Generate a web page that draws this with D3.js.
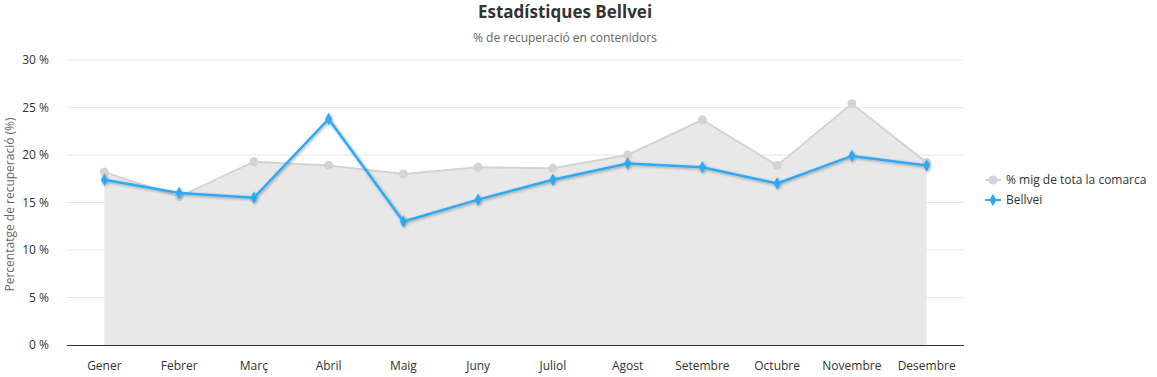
<!DOCTYPE html>
<html>
<head>
<meta charset="utf-8">
<script src="https://cdn.jsdelivr.net/npm/d3@7"></script>
<style>
  body { margin: 0; background: #fff; font-family: "Open Sans", "Noto Sans", sans-serif; }
  svg text { fill: #333; }
</style>
</head>
<body>
<div id="chart"></div>
<script>
var months = ["Gener", "Febrer", "Març", "Abril", "Maig", "Juny", "Juliol", "Agost", "Setembre", "Octubre", "Novembre", "Desembre"];
var comarca = [18.2, 15.6, 19.3, 18.9, 18.0, 18.7, 18.6, 20.0, 23.7, 18.9, 25.4, 19.2];
var bellvei = [17.4, 16.0, 15.5, 23.8, 13.0, 15.3, 17.4, 19.1, 18.7, 17.0, 19.9, 18.9];
var yTicks = [0, 5, 10, 15, 20, 25, 30];
var seriesNames = ["% mig de tota la comarca", "Bellvei"];

function renderChart() {
    var width = 1157, height = 377;

    var svg = d3.select("#chart")
        .append("svg")
        .attr("width", width)
        .attr("height", height);

    var defs = svg.append("defs");
    var f = defs.append("filter").attr("id", "shadow")
        .attr("x", "-10%").attr("y", "-10%").attr("width", "120%").attr("height", "130%");
    f.append("feDropShadow")
        .attr("dx", 1).attr("dy", 1).attr("stdDeviation", 1.5)
        .attr("flood-color", "#000").attr("flood-opacity", 0.35);

    svg.append("text")
        .attr("x", 565)
        .attr("y", 18)
        .attr("text-anchor", "middle")
        .style("font-size", "17px")
        .style("font-weight", "bold")
        .text("Estadístiques Bellvei");

    svg.append("text")
        .attr("x", 565)
        .attr("y", 42)
        .attr("text-anchor", "middle")
        .style("font-size", "12px")
        .style("fill", "#666")
        .text("% de recuperació en contenidors");

    var left = 67, right = 964, top = 60, bottom = 345;

    var xScale = d3.scaleBand().domain(months).range([left, right]);
    var yScale = d3.scaleLinear().domain([0, 30]).range([bottom, top]);
    var cx = function (d, i) { return xScale(months[i]) + xScale.bandwidth() / 2; };

    // grid
    svg.append("g")
        .selectAll("line")
        .data(yTicks.slice(1))
        .enter().append("line")
        .attr("x1", left).attr("x2", right)
        .attr("y1", function (d) { return yScale(d); })
        .attr("y2", function (d) { return yScale(d); })
        .attr("stroke", "#e6e6e6");

    // y labels
    var yAxis = svg.append("g")
        .attr("transform", "translate(" + (left - 15) + ",0)")
        .call(d3.axisLeft(yScale).tickValues(yTicks).tickSize(0).tickFormat(function (d) { return d + " %"; }));
    yAxis.select(".domain").remove();
    yAxis.selectAll("text").style("font-size", "12px").style("font-family", "Open Sans, sans-serif").attr("fill", "#333");

    svg.append("text")
        .attr("transform", "translate(14," + ((top + bottom) / 2 + 2) + ")rotate(-90)")
        .attr("text-anchor", "middle")
        .style("font-size", "12px")
        .style("fill", "#666")
        .text("Percentatge de recuperació (%)");

    // area
    var area = d3.area()
        .x(cx)
        .y0(bottom)
        .y1(function (d) { return yScale(d); });
    svg.append("path")
        .datum(comarca)
        .attr("fill", "#e8e8e8")
        .attr("d", area);

    var line = d3.line()
        .x(cx)
        .y(function (d) { return yScale(d); });

    svg.append("path")
        .datum(comarca)
        .attr("fill", "none")
        .attr("stroke", "#d3d3d3")
        .attr("stroke-width", 2)
        .attr("d", line);

    svg.selectAll(".dotc")
        .data(comarca)
        .enter().append("circle")
        .attr("class", "dotc")
        .attr("cx", cx)
        .attr("cy", function (d) { return yScale(d); })
        .attr("r", 4.5)
        .attr("fill", "#d3d3d3");

    // x axis
    var xAxis = svg.append("g")
        .attr("transform", "translate(0," + bottom + ")")
        .call(d3.axisBottom(xScale).tickSize(0).tickPadding(16));
    xAxis.select(".domain").attr("stroke", "#333").attr("d", "M" + left + ",0.5H" + right);
    xAxis.selectAll("text").style("font-size", "12px").style("font-family", "Open Sans, sans-serif").attr("fill", "#333");

    var g = svg.append("g").attr("filter", "url(#shadow)");
    g.append("path")
        .datum(bellvei)
        .attr("fill", "none")
        .attr("stroke", "#2eaaf5")
        .attr("stroke-width", 2.5)
        .attr("d", line);

    var diamond = d3.symbol().type(d3.symbolDiamond).size(45);
    g.selectAll(".dotb")
        .data(bellvei)
        .enter().append("path")
        .attr("class", "dotb")
        .attr("transform", function (d, i) { return "translate(" + cx(d, i) + "," + yScale(d) + ")"; })
        .attr("d", diamond)
        .attr("fill", "#2eaaf5");

    // legend
    var lg = svg.append("g").attr("transform", "translate(985,180)");
    var colors = ["#d3d3d3", "#2eaaf5"];
    seriesNames.forEach(function (name, i) {
        var row = lg.append("g").attr("transform", "translate(0," + (i * 20) + ")");
        row.append("line").attr("x1", 0).attr("x2", 16)
            .attr("stroke", colors[i]).attr("stroke-width", 2);
        if (i === 0) {
            row.append("circle").attr("cx", 8).attr("r", 4.5).attr("fill", colors[i]);
        } else {
            row.append("path").attr("transform", "translate(8,0)").attr("d", diamond).attr("fill", colors[i]);
        }
        row.append("text").attr("x", 21).attr("y", 4)
            .style("font-size", "12px")
            .text(name);
    });
}

renderChart()
</script>
</body>
</html>
